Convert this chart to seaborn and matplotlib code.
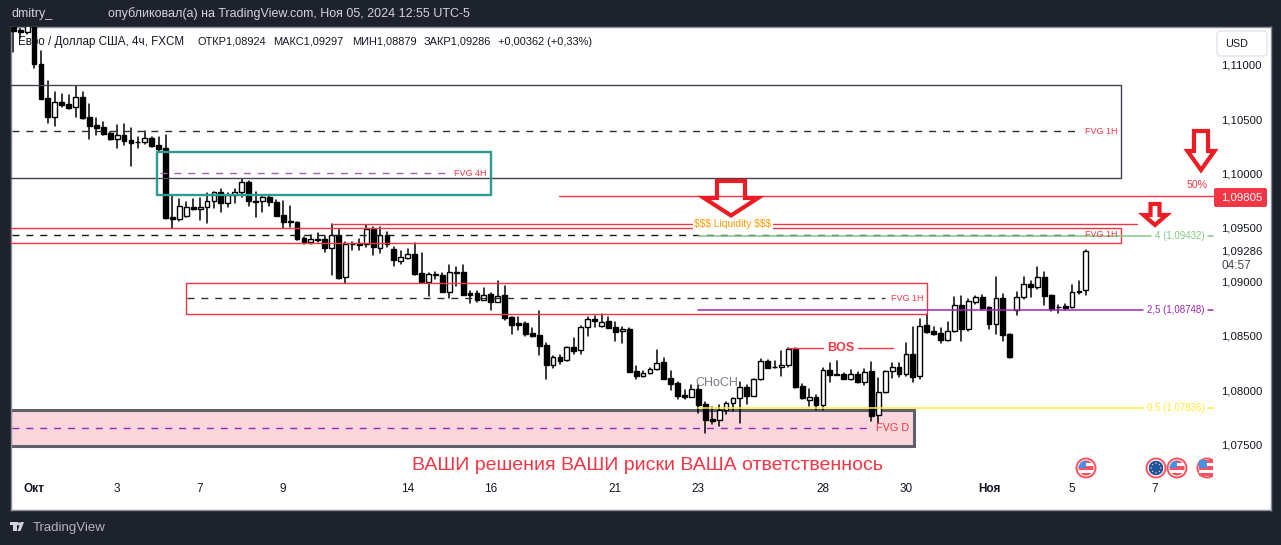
import numpy as np
import pandas as pd
import matplotlib
matplotlib.use("Agg")
import matplotlib.pyplot as plt
from matplotlib.patches import Rectangle, Polygon, Circle, FancyBboxPatch
import seaborn as sns

# ---------- data (EUR/USD 4h candles) ----------
opens = [1.1138,1.11320,1.11302,1.1140,1.11006,1.10692,1.10523,1.10655,1.10637,1.10609,1.10702,1.10517,1.10443,1.10428,1.10372,1.10314,1.10351,1.10305,1.10286,1.10286,
1.10323,1.10261,1.10231,1.09594,1.09581,1.09603,1.09686,1.09668,1.09686,1.09748,1.09825,1.09723,1.09797,1.09831,1.09920,1.09741,1.09741,1.09778,1.09732,1.09612,
1.09557,1.09548,1.09403,1.09369,1.09388,1.09391,1.09314,1.09428,1.09040,1.09345,1.09354,1.09345,1.09486,1.09314,1.09428,1.09298,1.09194,1.09221,1.09252,1.09077,
1.09000,1.09070,1.09061,1.08907,1.09086,1.09086,1.08895,1.08892,1.08834,1.08883,1.08815,1.08873,1.08670,1.08615,1.08615,1.08523,1.08504,1.08412,1.08234,1.08301,
1.08273,1.08394,1.08366,1.08578,1.08652,1.08587,1.08634,1.08578,1.08541,1.08560,1.08172,1.08132,1.08154,1.08191,1.08255,1.08107,1.08061,1.07950,1.07938,1.08006,
1.07867,1.07729,1.07720,1.07812,1.07877,1.07923,1.08024,1.07947,1.08098,1.08264,1.08209,1.08209,1.08227,1.08378,1.08037,1.07910,1.07932,1.07864,1.08181,1.08144,
1.08144,1.08104,1.08144,1.08077,1.08172,1.07766,1.07978,1.08172,1.08209,1.08151,1.08329,1.08126,1.08597,1.08541,1.08523,1.08464,1.08547,1.08781,1.08566,1.08815,
1.08855,1.08763,1.08612,1.08846,1.08514,1.08735,1.08861,1.08975,1.08947,1.09040,1.08873,1.08769,1.08772,1.08769,1.08907,1.08924]
highs = [1.1150,1.11354,1.1145,1.1150,1.11132,1.10852,1.10751,1.10729,1.10720,1.10806,1.10751,1.10637,1.10508,1.10474,1.10385,1.10443,1.10452,1.10415,1.10338,1.10388,
1.10338,1.10338,1.10354,1.09797,1.09760,1.09738,1.09766,1.09769,1.09815,1.09831,1.09855,1.09821,1.09852,1.09948,1.09926,1.09825,1.09791,1.09797,1.09754,1.09745,
1.09698,1.09548,1.09409,1.09428,1.09446,1.09422,1.09529,1.09486,1.09363,1.09363,1.09397,1.09526,1.09508,1.09508,1.09458,1.09317,1.09283,1.09298,1.09354,1.09261,
1.09083,1.09092,1.09077,1.09154,1.09138,1.09154,1.08914,1.08914,1.08938,1.08898,1.09006,1.08960,1.08674,1.08677,1.08631,1.08575,1.08729,1.08430,1.08317,1.08323,
1.08400,1.08480,1.08591,1.08670,1.08683,1.08701,1.08670,1.08624,1.08578,1.08569,1.08221,1.08178,1.08200,1.08366,1.08295,1.08175,1.08070,1.08000,1.08046,1.08046,
1.07889,1.07846,1.07861,1.07886,1.07929,1.08070,1.08046,1.08104,1.08283,1.08277,1.08270,1.08360,1.08387,1.08387,1.08055,1.08009,1.07954,1.08200,1.08252,1.08267,
1.08160,1.08184,1.08169,1.08191,1.08258,1.08107,1.08172,1.08246,1.08246,1.08434,1.08578,1.08652,1.08698,1.08584,1.08569,1.08627,1.08855,1.08867,1.08837,1.08867,
1.08880,1.08769,1.09043,1.08886,1.08514,1.08904,1.09040,1.09006,1.09135,1.09089,1.08877,1.08781,1.08791,1.08969,1.09006,1.09297]
lows = [1.11123,1.11246,1.11290,1.10969,1.10689,1.10468,1.10440,1.10615,1.10591,1.10523,1.10502,1.10314,1.10357,1.10354,1.10308,1.10237,1.10265,1.10071,1.10237,1.10271,
1.10240,1.10200,1.09581,1.09498,1.09563,1.09600,1.09661,1.09569,1.09538,1.09683,1.09643,1.09686,1.09723,1.09778,1.09698,1.09600,1.09646,1.09698,1.09603,1.09495,
1.09508,1.09385,1.09351,1.09351,1.09369,1.09277,1.09065,1.09021,1.08991,1.09292,1.09292,1.09317,1.09246,1.09261,1.09323,1.09148,1.09163,1.09206,1.09064,1.09000,
1.08867,1.09024,1.08901,1.08846,1.08963,1.08877,1.08806,1.08812,1.08831,1.08738,1.08815,1.08646,1.08517,1.08554,1.08501,1.08486,1.08323,1.08104,1.08203,1.08243,
1.08270,1.08332,1.08332,1.08501,1.08584,1.08584,1.08569,1.08455,1.08437,1.08166,1.08104,1.08123,1.08147,1.08184,1.08101,1.08000,1.07917,1.07917,1.07935,1.07790,
1.07606,1.07686,1.07667,1.07778,1.07809,1.07698,1.07870,1.07944,1.08095,1.08200,1.08200,1.08129,1.08209,1.08021,1.07917,1.07852,1.07815,1.07815,1.08077,1.08138,
1.08098,1.08089,1.08061,1.08049,1.07717,1.07692,1.07975,1.08113,1.08117,1.08132,1.08077,1.08104,1.08529,1.08507,1.08437,1.08455,1.08535,1.08455,1.08544,1.08794,
1.08738,1.08560,1.08517,1.08455,1.08295,1.08692,1.08843,1.08861,1.08932,1.08784,1.08732,1.08714,1.08738,1.08760,1.08886,1.08879]
closes = [1.11317,1.11302,1.1140,1.11006,1.10689,1.10523,1.10655,1.10631,1.10606,1.10702,1.10514,1.10440,1.10421,1.10366,1.10314,1.10351,1.10301,1.10283,1.10289,1.10323,
1.10252,1.10228,1.09591,1.09581,1.09702,1.09686,1.09668,1.09686,1.09748,1.09825,1.09723,1.09797,1.09831,1.09917,1.09741,1.09738,1.09778,1.09732,1.09609,1.09554,
1.09548,1.09397,1.09369,1.09391,1.09391,1.09311,1.09428,1.09031,1.09345,1.09348,1.09342,1.09483,1.09317,1.09428,1.09345,1.09197,1.09224,1.09252,1.09074,1.09000,
1.09067,1.09061,1.08907,1.09086,1.09083,1.08880,1.08880,1.08831,1.08880,1.08815,1.08870,1.08667,1.08603,1.08603,1.08517,1.08498,1.08409,1.08234,1.08301,1.08270,
1.08394,1.08363,1.08578,1.08652,1.08640,1.08631,1.08575,1.08538,1.08560,1.08169,1.08132,1.08154,1.08191,1.08252,1.08104,1.08058,1.07947,1.07938,1.08006,1.07864,
1.07723,1.07717,1.07812,1.07877,1.07923,1.08024,1.07947,1.08098,1.08264,1.08206,1.08212,1.08227,1.08375,1.08031,1.07929,1.07932,1.07864,1.08181,1.08141,1.08141,
1.08104,1.08144,1.08077,1.08169,1.07763,1.07978,1.08172,1.08209,1.08151,1.08329,1.08123,1.08594,1.08538,1.08520,1.08464,1.08547,1.08781,1.08566,1.08818,1.08855,
1.08757,1.08612,1.08846,1.08511,1.08304,1.08861,1.08975,1.08947,1.09040,1.08870,1.08744,1.08766,1.08760,1.08901,1.08910,1.09286]

price_ticks = [1.11, 1.105, 1.10, 1.095, 1.09286, 1.09, 1.085, 1.08, 1.075]
price_labels = ["1,11000","1,10500","1,10000","1,09500","1,09286","1,09000","1,08500","1,08000","1,07500"]
date_ticks = [3, 15, 27, 39, 57, 69, 87, 99, 117, 129, 141, 153, 165]
date_labels = ["Окт","3","7","9","14","16","21","23","28","30","Ноя","5","7"]

# horizontal levels
level_red = 1.09788
level_green = 1.09420
level_purple = 1.08736
level_yellow = 1.07831
liq_top = 1.09529
mid_top = 1.10388
mid_4h = 1.10000
mid_1h_a = 1.09431
mid_1h_b = 1.08846
mid_d = 1.07647
bos_level = 1.08385

# zones: bar start, bar end, price low, price high
zone_top = (-0.5, 160.1, 1.09954, 1.10813)
zone_4h = (20.8, 69.0, 1.09800, 1.10197)
zone_1h_a = (-0.5, 160.1, 1.09354, 1.09493)
zone_1h_b = (24.9, 132.1, 1.08699, 1.08985)
zone_d = (-0.5, 130.1, 1.07479, 1.07816)

title_parts = ["Евро / Доллар США, 4ч, FXCM", "ОТКР1,08924", "МАКС1,09297", "МИН1,08879", "ЗАКР1,09286", "+0,00362 (+0,33%)"]
warning_text = "ВАШИ решения ВАШИ риски ВАША ответственнось"
publisher = "dmitry_"
published = "опубликовал(а) на TradingView.com, Ноя 05, 2024 12:55 UTC-5"

# ---------- style ----------
W, H = 1281, 545
DARK = "#1e222d"; RED = "#f23645"; TXT = "#131722"
sns.set_theme(style="white")
plt.rcParams["font.family"] = ["Liberation Sans", "DejaVu Sans"]
plt.rcParams["axes.unicode_minus"] = False

fig = plt.figure(figsize=(W/100, H/100), dpi=100, facecolor=DARK)
L, R, T, B = 10.5, 1270.5, 27.0, 509.5
ax = fig.add_axes([L/W, 1-B/H, (R-L)/W, (B-T)/H], facecolor="white")

bars = np.arange(len(opens))
df = pd.DataFrame({"bar": bars, "open": opens, "high": highs, "low": lows, "close": closes})
wicks = df.melt(id_vars="bar", value_vars=["high", "low"], value_name="price").sort_values("bar")

# pink FVG D zone sits behind the candles
ax.add_patch(Rectangle((zone_d[0], zone_d[2]), zone_d[1]-zone_d[0], zone_d[3]-zone_d[2],
                       fc="#fbd6dc", ec="#5d606b", lw=2.2, zorder=1))

sns.lineplot(data=wicks, x="bar", y="price", units="bar", estimator=None, color="black",
             linewidth=1.1, ax=ax, legend=False, sort=False, zorder=2)
up = df["close"] >= df["open"]
ax.bar(df["bar"], (df["close"]-df["open"]).abs(), bottom=df[["open", "close"]].min(axis=1),
       width=0.7, color=np.where(up, "white", "black"), edgecolor="black", linewidth=1.0, zorder=3)

def box(z, color, lw):
    ax.add_patch(Rectangle((z[0], z[2]), z[1]-z[0], z[3]-z[2], fill=False, ec=color, lw=lw, zorder=4))

box(zone_top, "#434651", 1.0)
box(zone_4h, "#2a9d8f", 1.7)
box(zone_1h_a, RED, 1.0)
box(zone_1h_b, RED, 1.0)

dash = (0, (5, 5))
ax.plot([-0.2, 154], [mid_top]*2, color="#2a2e39", lw=1, ls=dash, zorder=4)
ax.plot([21.2, 63.2], [mid_4h]*2, color="#a65fb5", lw=1, ls=dash, zorder=4)
ax.plot([-0.2, 154], [mid_1h_a]*2, color="#131722", lw=1, ls=dash, zorder=4)
ax.plot([25.1, 126], [mid_1h_b]*2, color="#2a2e39", lw=1, ls=dash, zorder=4)
ax.plot([-0.2, 124], [mid_d]*2, color="#9c27b0", lw=1, ls=dash, zorder=4)

def small(x, y, s, color=RED, size=6.5, **kw):
    ax.text(x, y, s, color=color, fontsize=size, ha=kw.pop("ha", "center"), va="center", zorder=6, **kw)

small(157.2, mid_top, "FVG 1H")
small(66.1, mid_4h, "FVG 4H")
small(157.2, mid_1h_a, "FVG 1H")
small(129.2, mid_1h_b, "FVG 1H")
small(127.1, mid_d, "FVG D", size=7.8)

# levels
ax.plot([46.0, 162.4], [liq_top]*2, color=RED, lw=1, zorder=4)
ax.text(104.0, liq_top, "$$$ Liquidity $$$", color="#ff9800", fontsize=7.4, ha="center", va="center", zorder=5,
        bbox=dict(fc="white", ec="none", pad=1.2), parse_math=False)
ax.plot([78.9, 173.4], [level_red]*2, color=RED, lw=1, zorder=4)
ax.plot([99.0, 164.4], [level_green]*2, color="#81c784", lw=1.1, zorder=4)
ax.plot([99.0, 163.2], [level_purple]*2, color="#9c27b0", lw=1.1, zorder=4)
ax.plot([99.0, 163.2], [level_yellow]*2, color="#ffeb3b", lw=1.1, zorder=4)
small(172.2, level_green, "4 (1,09432)", "#81c784", 7, ha="right")
small(172.2, level_purple, "2,5 (1,08748)", "#9c27b0", 7, ha="right")
small(172.2, level_yellow, "0,5 (1,07836)", "#ffeb3b", 7, ha="right")
for lv, c in ((level_green, "#81c784"), (level_purple, "#9c27b0"), (level_yellow, "#ffeb3b")):
    ax.plot([172.6, 173.4], [lv]*2, color=c, lw=1.1, zorder=4)

# BOS / CHoCH
ax.plot([111.95, 117.0], [bos_level]*2, color=RED, lw=1, zorder=4)
ax.plot([122.1, 127.1], [bos_level]*2, color=RED, lw=1, zorder=4)
small(119.6, bos_level, "BOS", size=9, fontweight="bold")
small(101.7, 1.08065, "CHoCH", "#787b86", 9)

# axes
ax.set_xlim((L-13.3)/6.92, (R-13.3)/6.92)
ax.set_ylim(1.11-(B-65)*9.23e-5, 1.11-(T-65)*9.23e-5)
ax.set_xlabel(""); ax.set_ylabel("")
ax.yaxis.tick_right()
ax.set_yticks(price_ticks, price_labels)
ax.set_xticks(date_ticks, date_labels)
ax.tick_params(axis="y", length=0, pad=-35.7, labelsize=8.2, labelcolor=TXT)
ax.tick_params(axis="x", length=0, pad=-19, labelsize=8.5, labelcolor=TXT)
for t, s in zip(ax.get_xticklabels(), date_labels):
    if s in ("Окт", "Ноя"):
        t.set_fontweight("bold")
for s in ax.spines.values():
    s.set_color("#8a8e99"); s.set_linewidth(1.0)
ax.grid(False)

# overlay in figure pixels for header, footer, arrows, flags
ov = fig.add_axes([0, 0, 1, 1], facecolor="none", zorder=10)
ov.set_xlim(0, W); ov.set_ylim(H, 0); ov.axis("off")

ov.text(11, 14, publisher, color="#d1d4dc", fontsize=9, va="center")
ov.text(108, 14, published, color="#d1d4dc", fontsize=9, va="center")
for xp, part, fs in zip((18, 197, 273, 352, 424, 498), title_parts, (8.4, 7.9, 7.9, 7.9, 7.9, 7.9)):
    ov.text(xp, 42, part, color=TXT, fontsize=fs, va="center")
ov.text(647.5, 466, warning_text, color=RED, fontsize=14, ha="center", va="center")
ov.text(33, 527.5, "TradingView", color="#b2b5be", fontsize=9.5, va="center")
ov.add_patch(Rectangle((10, 522), 8, 3, fc="#d1d4dc", ec="none"))
ov.add_patch(Rectangle((13, 522), 3.5, 9, fc="#d1d4dc", ec="none"))
ov.add_patch(Circle((19.5, 524), 1.7, fc="#d1d4dc", ec="none"))
ov.add_patch(Polygon([(21, 522), (24, 522), (20.5, 531), (17.5, 531)], fc="#d1d4dc", ec="none"))

ov.add_patch(FancyBboxPatch((1219, 33), 46, 21, boxstyle="round,pad=2,rounding_size=4", fc="white", ec="#e0e3eb", lw=1))
ov.text(1237, 44, "USD", color=TXT, fontsize=7.8, ha="center", va="center")
ov.add_patch(FancyBboxPatch((1215, 189), 51, 17, boxstyle="round,pad=1,rounding_size=2", fc=RED, ec="none"))
ov.text(1242, 197, "1,09805", color="white", fontsize=8.2, ha="center", va="center")
ov.text(1197, 185, "50%", color=RED, fontsize=7.6, ha="center", va="center")
ov.text(1221, 266, "04:57", color="#434651", fontsize=8.5, va="center")

def arrow(cx, top, sh, hs, hh, tip, lw=3.0):
    pts = [(cx-sh, top), (cx+sh, top), (cx+sh, hs), (cx+hh, hs), (cx, tip), (cx-hh, hs), (cx-sh, hs)]
    ov.add_patch(Polygon(pts, closed=True, fc="none", ec="#ed1c24", lw=lw, joinstyle="miter"))

arrow(1201, 131, 7, 151, 13.5, 170)
arrow(1155, 204, 4.5, 215, 11.5, 225)
arrow(731, 181, 14, 198, 27, 215.5)

# calendar flags
clip = Rectangle((0, 0), 1213, H, transform=ov.transData)
def flag(cx, eu=False):
    cy = 468
    ring = Circle((cx, cy), 9.5, fc="white", ec="#f7525f", lw=1.4)
    ov.add_patch(ring); ring.set_clip_path(clip)
    ps = []
    if eu:
        ps.append(Circle((cx, cy), 7.5, fc="#1e53a8", ec="none"))
        for a in np.arange(0, 360, 45):
            ps.append(Circle((cx+4.8*np.cos(np.radians(a)), cy+4.8*np.sin(np.radians(a))), 0.7, fc="#f7d83a", ec="none"))
    else:
        for k, c in enumerate(["#f7525f", "white", "#f7525f", "white", "#f7525f"]):
            ps.append(Rectangle((cx-8, cy-8+k*3.2), 16, 3.2, fc=c, ec="none"))
        ps.append(Rectangle((cx-8, cy-8), 8, 8, fc="#4a90e2", ec="none"))
    for p in ps:
        ov.add_patch(p)
        if cx + 8 <= 1213:
            p.set_clip_path(Circle((cx, cy), 7.5, transform=ov.transData))
        else:
            p.set_clip_path(clip)
for cx, eu in ((1086, False), (1156, True), (1177, False), (1207, False)):
    flag(cx, eu)

fig.savefig("out.png", dpi=100, facecolor=DARK)
